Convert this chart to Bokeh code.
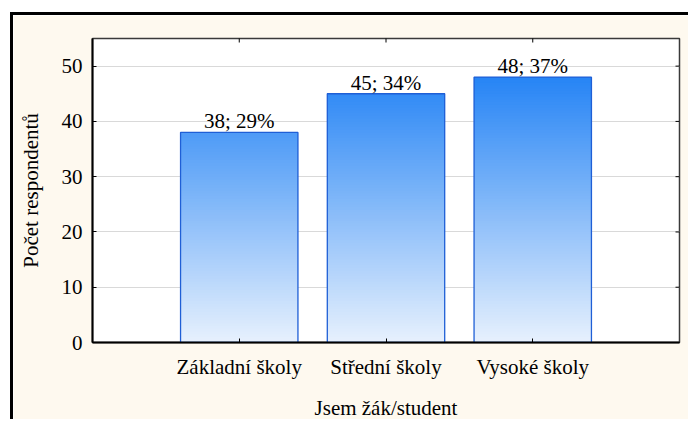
from bokeh.plotting import figure
from bokeh.models import FixedTicker, ColumnDataSource
from bokeh.core.properties import value
from bokeh.embed import file_html
from bokeh.resources import INLINE

categories = ["Základní školy", "Střední školy", "Vysoké školy"]
counts = [38, 45, 48]
percents = [29, 34, 37]
y_ticks = [0, 10, 20, 30, 40, 50]
x_title = "Jsem žák/student"
y_title = "Počet respondentů"

FONT = "'Liberation Serif', serif"
FS = "21px"
bottom_rgb = (231, 241, 253)
top_rgb = (38, 132, 245)

xs = [i + 1 for i in range(len(categories))]
bar_w = 0.8
step = 0.5
vmax = max(counts)
X_MAX = len(categories) + 1
Y_MAX = 55


def grad(y):
    f = min(max(y / vmax, 0), 1)
    c = [round(b + (t - b) * f) for b, t in zip(bottom_rgb, top_rgb)]
    return "#%02x%02x%02x" % tuple(c)


L, R, B, T, C = [], [], [], [], []
for x, v in zip(xs, counts):
    y0 = 0.0
    while y0 < v:
        y1 = min(y0 + step, v)
        L.append(x - bar_w / 2)
        R.append(x + bar_w / 2)
        B.append(y0)
        T.append(v)
        C.append(grad((y0 + y1) / 2))
        y0 = y1

p = figure(width=678, height=407, x_range=(0, X_MAX), y_range=(0, Y_MAX),
           output_backend="svg", toolbar_location=None,
           min_border_left=79, min_border_right=12, min_border_top=23, min_border_bottom=80,
           border_fill_color="#FEF9EF", background_fill_color="white",
           outline_line_color="#3a3a3a", outline_line_width=1.5,
           styles={"border-left": "3px solid black", "border-top": "3px solid black",
                   "margin-left": "10px", "margin-top": "12px"})

p.xgrid.visible = False
p.ygrid.grid_line_color = "#d9d9d9"
p.ygrid.grid_line_width = 1.2
p.ygrid.ticker = FixedTicker(ticks=y_ticks)

p.quad(left=L, right=R, bottom=B, top=T, fill_color=C, line_color=None)
p.vbar(x=xs, top=counts, width=bar_w, fill_color=None, line_color="#1f5fd6", line_width=1.3)

# mirrored inner ticks on top and right borders
p.scatter(x=xs, y=[Y_MAX] * len(xs), marker="dash", angle=1.5708, size=8,
          line_color="black", line_width=1)
p.scatter(x=[X_MAX] * len(y_ticks), y=y_ticks, marker="dash", size=8,
          line_color="black", line_width=1)

labels = [f"{c}; {q}%" for c, q in zip(counts, percents)]
src = ColumnDataSource(dict(x=xs, y=counts, t=labels))
p.text(x="x", y="y", text="t", source=src, text_align="center", text_baseline="bottom",
       text_font=value(FONT), text_font_size=FS, text_color="black", y_offset=1)

xa = p.xaxis[0]
xa.ticker = FixedTicker(ticks=xs)
xa.major_label_overrides = {x: c for x, c in zip(xs, categories)}
xa.axis_label = x_title
ya = p.yaxis[0]
ya.ticker = FixedTicker(ticks=y_ticks)
ya.axis_label = y_title

for ax in (xa, ya):
    ax.axis_line_color = "black"
    ax.axis_line_width = 2
    ax.major_tick_in = 4
    ax.major_tick_out = 0
    ax.major_tick_line_color = "black"
    ax.minor_tick_line_color = None
    ax.major_label_text_font = FONT
    ax.major_label_text_font_size = FS
    ax.major_label_text_color = "black"
    ax.axis_label_text_font = FONT
    ax.axis_label_text_font_size = FS
    ax.axis_label_text_font_style = "normal"
    ax.axis_label_text_color = "black"

xa.major_label_standoff = 12
xa.axis_label_standoff = 14
ya.major_label_standoff = 10
ya.axis_label_standoff = 16

open("out.html", "w").write(file_html(p, INLINE))
